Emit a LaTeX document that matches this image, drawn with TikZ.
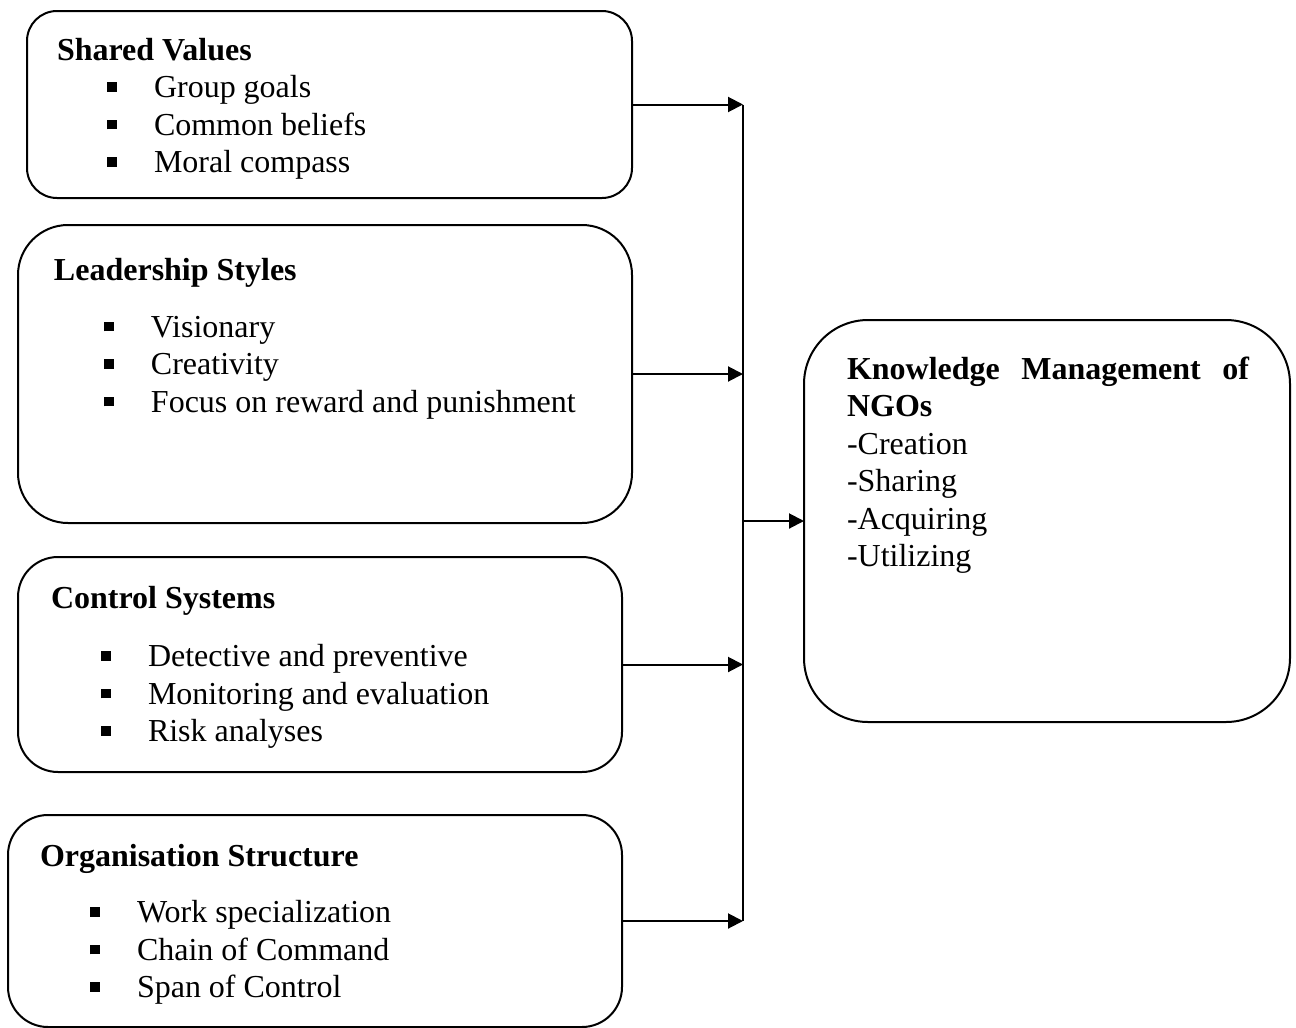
\documentclass[tikz,border=0pt]{standalone}
\usepackage{fontspec}
\setmainfont{Liberation Serif}
\usetikzlibrary{arrows.meta}
\newcommand{\itm}[1]{\makebox[48.5pt][l]{\hspace{25pt}\rule[2.8pt]{4.8pt}{4.8pt}}#1}

\begin{document}
\begin{tikzpicture}[x=0.5pt, y=-0.5pt, line width=1pt,
	box/.style={draw, inner sep=0pt, outer sep=0pt},
	txt/.style={anchor=base west, inner sep=0pt, font=\fontsize{16}{18.75}\selectfont},
	arr/.style={-{Triangle[length=7.5pt,width=7.5pt]}}]
	\useasboundingbox (0,0) rectangle (1296,1028);
	% factor boxes
	\node[box, rounded corners=15pt, minimum width=302.5pt, minimum height=93.5pt] (sv) at (329.5,104.5) {};
	\node[box, rounded corners=25pt, minimum width=307pt, minimum height=149pt] (ls) at (325,374) {};
	\node[box, rounded corners=20pt, minimum width=302pt, minimum height=107.5pt] (cs) at (320,664.5) {};
	\node[box, rounded corners=20pt, minimum width=307pt, minimum height=106pt] (os) at (315,921) {};
	\node[box, rounded corners=32pt, minimum width=243pt, minimum height=201pt] (km) at (1047,521) {};
	% texts
	\node[txt] (svt) at (56,60) {\begin{tabular}[t]{@{}l@{}}\textbf{Shared Values}\\
		\itm{Group goals}\\ \itm{Common beliefs}\\ \itm{Moral compass}\end{tabular}};
	\node[txt] (lst) at (53,280) {\begin{tabular}[t]{@{}l@{}}\textbf{Leadership Styles}\\[9.75pt]
		\itm{Visionary}\\ \itm{Creativity}\\ \itm{Focus on reward and punishment}\end{tabular}};
	\node[txt] (cst) at (50,608) {\begin{tabular}[t]{@{}l@{}}\textbf{Control Systems}\\[10.5pt]
		\itm{Detective and preventive}\\ \itm{Monitoring and evaluation}\\ \itm{Risk analyses}\end{tabular}};
	\node[txt] (ost) at (39,866) {\begin{tabular}[t]{@{}l@{}}\textbf{Organisation Structure}\\[9.5pt]
		\itm{Work specialization}\\ \itm{Chain of Command}\\ \itm{Span of Control}\end{tabular}};
	\node[txt] (kmt) at (846,379) {\begin{tabular}[t]{@{}p{201pt}@{}}\textbf{Knowledge Management of NGOs}\\
		-Creation\\ -Sharing\\ -Acquiring\\ -Utilizing\end{tabular}};
	% connectors
	\coordinate (bus) at (743,521);
	\draw (sv.east -| bus) -- (os.east -| bus);
	\foreach \b in {sv,ls,cs,os}
		\draw[arr] (\b.east) -- (\b.east -| bus);
	\draw[arr] (bus) -- (km.west);
\end{tikzpicture}
\end{document}
